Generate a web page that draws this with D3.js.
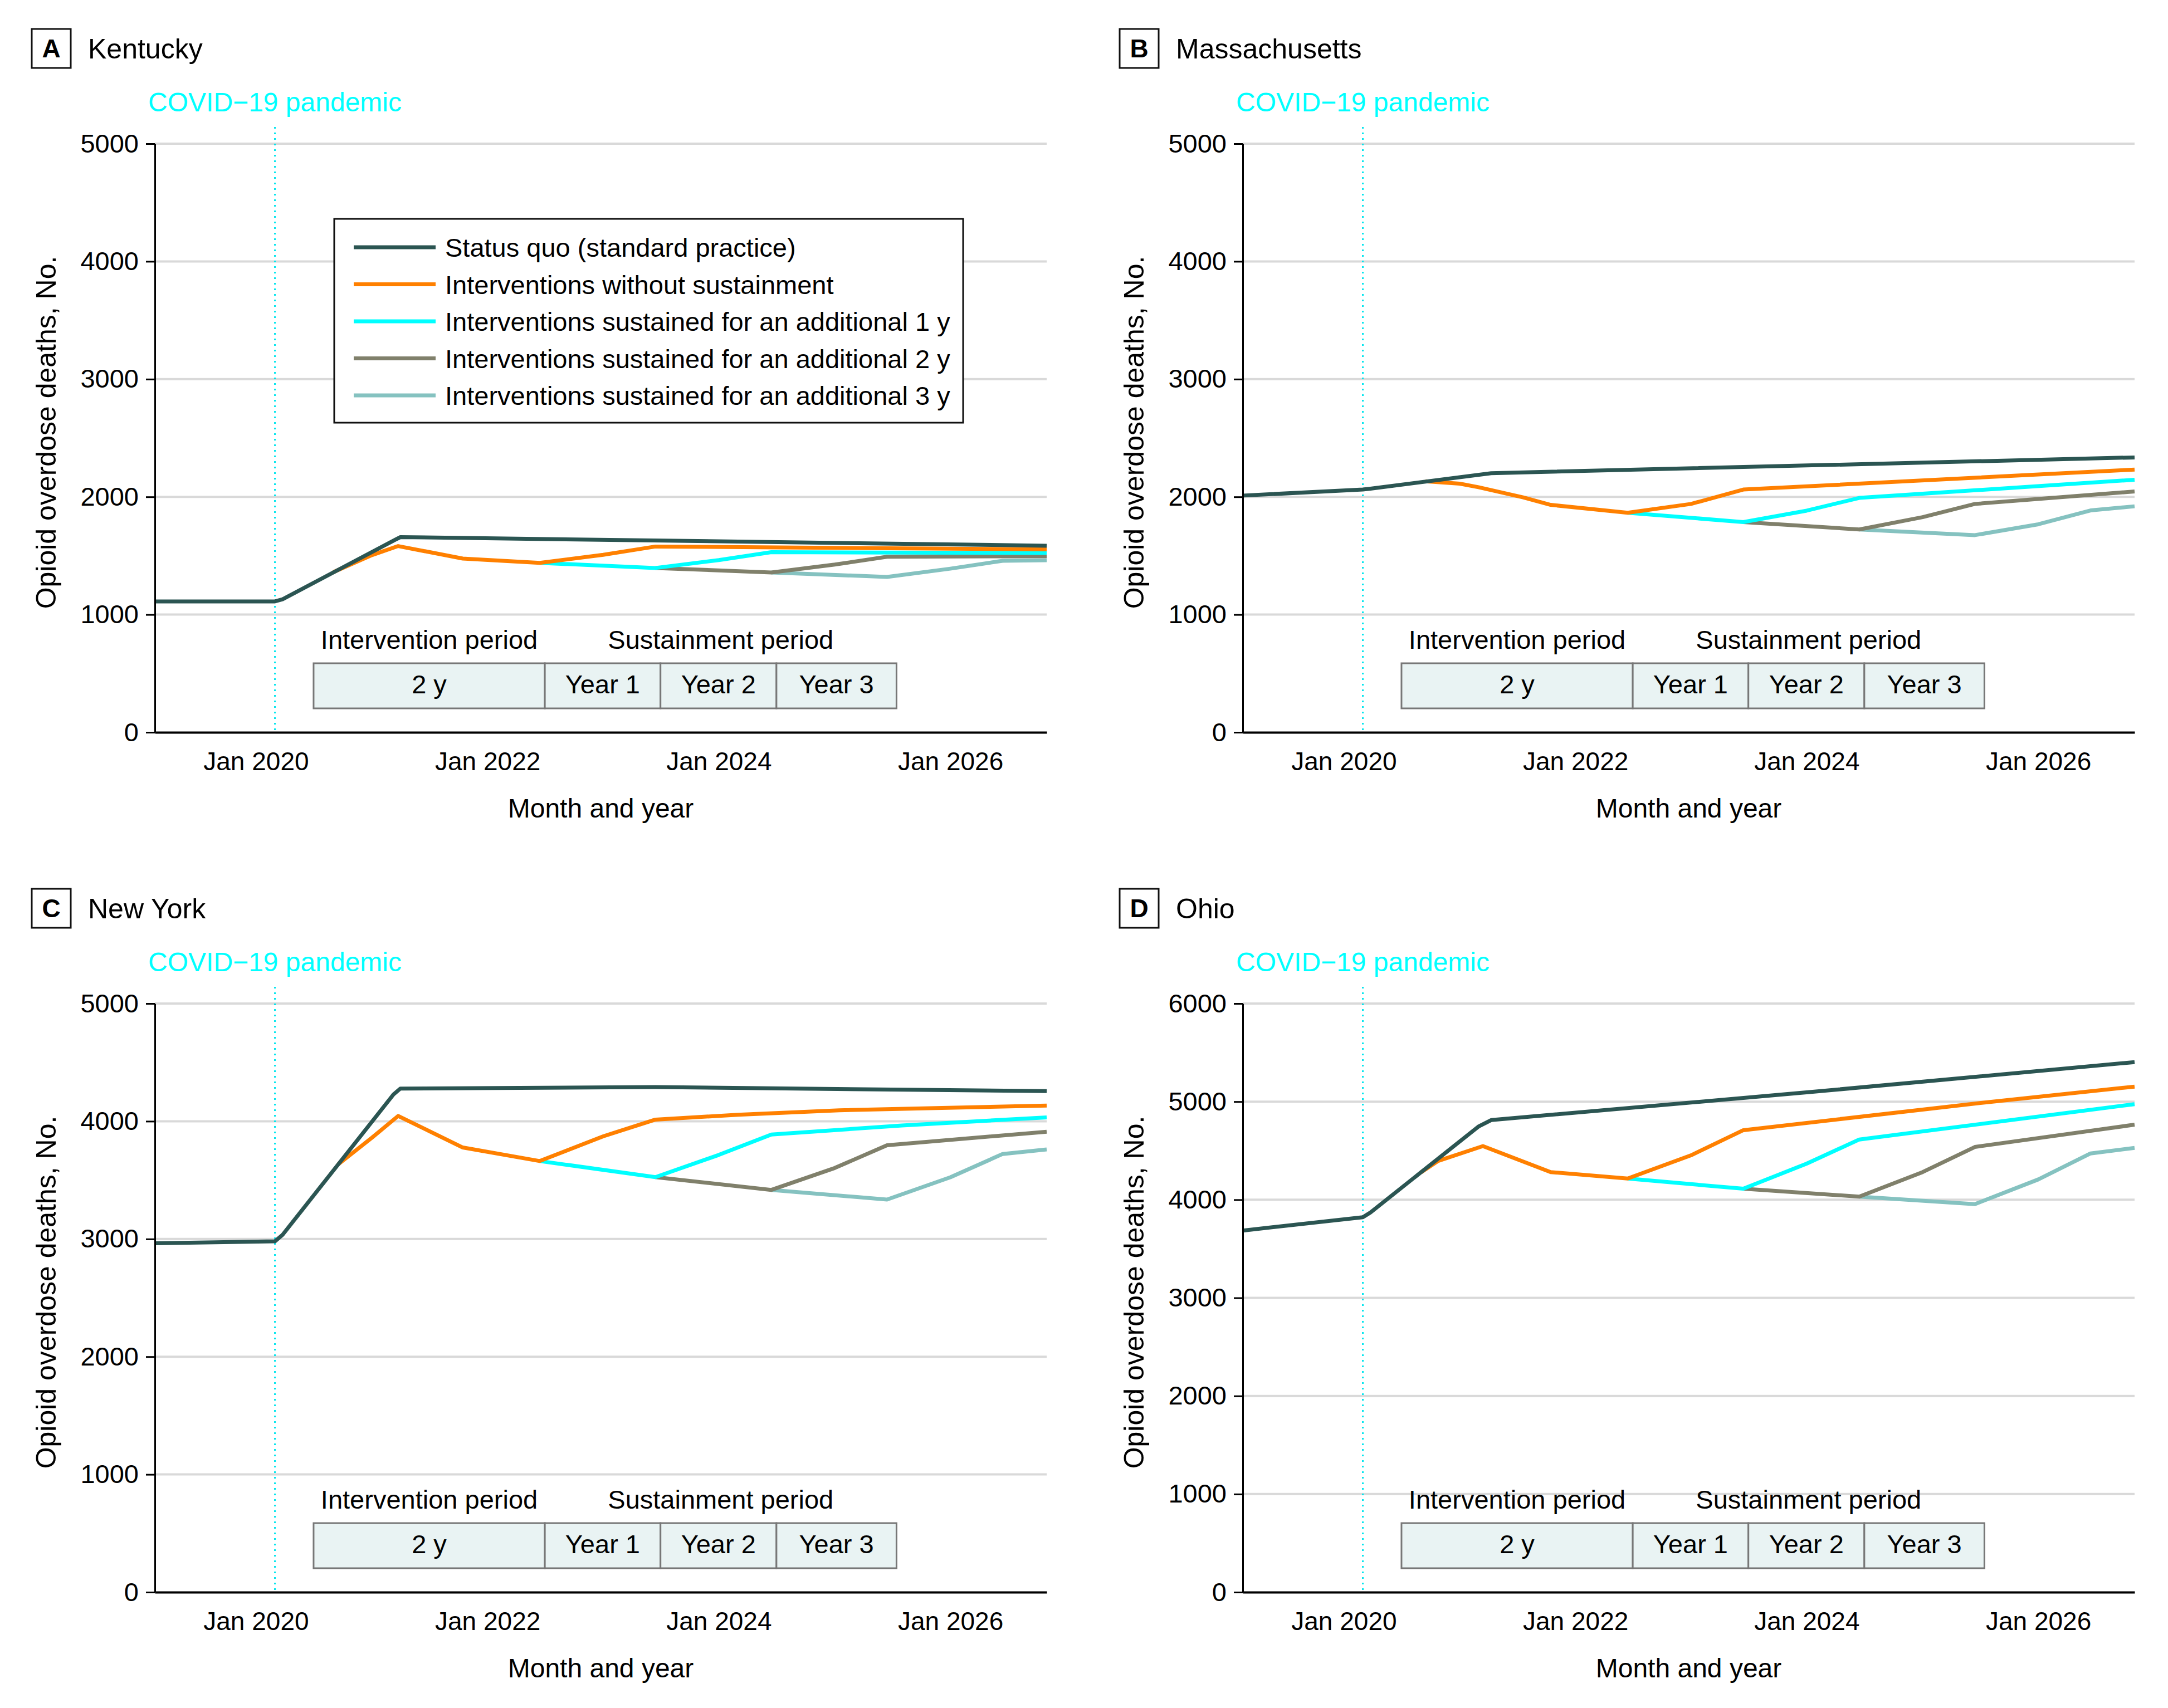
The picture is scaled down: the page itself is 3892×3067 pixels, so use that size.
<!DOCTYPE html>
<html><head><meta charset="utf-8">
<script src="https://cdn.jsdelivr.net/npm/d3@7"></script>
<style>
html,body{margin:0;padding:0;background:#fff;}
svg{display:block;font-family:"Liberation Sans",Arial,Helvetica,sans-serif;}
</style></head><body>
<svg id="chart" width="3892" height="3067"></svg>
<script>
// ---------------- DATA ----------------
const seriesNames = [
  "Status quo (standard practice)",
  "Interventions without sustainment",
  "Interventions sustained for an additional 1 y",
  "Interventions sustained for an additional 2 y",
  "Interventions sustained for an additional 3 y"
];
const panelLetters = ["A", "B", "C", "D"];
const panelStates = ["Kentucky", "Massachusetts", "New York", "Ohio"];
const xDomain = ["2019-02-16", "2026-11-01"];
const xTickDates = ["2020-01-01", "2022-01-01", "2024-01-01", "2026-01-01"];
const covidDate = "2020-03-01";
const periodBounds = ["2020-07-01", "2022-07-01", "2023-07-01", "2024-07-01", "2025-07-15"];
const periodSegments = ["2 y", "Year 1", "Year 2", "Year 3"];
const periodHeaders = ["Intervention period", "Sustainment period"];
const yTicksStd = [0, 1000, 2000, 3000, 4000, 5000];
const yTicksOhio = [0, 1000, 2000, 3000, 4000, 5000, 6000];

// Kentucky
const kySQ = [["2019-02-16",1112],["2020-03-01",1112],["2020-03-25",1130],["2021-03-15",1635],["2021-04-01",1658],["2026-11-01",1585]];
const kyNo = [["2020-09-01",1360],["2021-01-01",1505],["2021-03-25",1582],["2021-10-15",1476],["2022-06-15",1439],["2023-01-01",1508],["2023-06-15",1578],["2026-11-01",1554]];
const ky1 = [["2022-06-15",1439],["2023-06-15",1396],["2024-01-01",1463],["2024-06-15",1530],["2026-11-01",1523]];
const ky2 = [["2023-06-15",1396],["2024-06-15",1358],["2025-01-01",1425],["2025-06-15",1491],["2026-11-01",1496]];
const ky3 = [["2024-06-15",1358],["2025-06-15",1320],["2026-01-01",1390],["2026-06-15",1457],["2026-11-01",1462]];

// Massachusetts
const maSQ = [["2019-02-16",2011],["2020-03-01",2062],["2020-03-25",2070],["2021-04-10",2201],["2026-11-01",2335]];
const maNo = [["2020-09-15",2132],["2021-01-01",2112],["2021-03-01",2082],["2021-07-20",1996],["2021-10-15",1932],["2022-06-15",1865],["2023-01-01",1940],["2023-06-15",2062],["2026-11-01",2232]];
const ma1 = [["2022-06-15",1865],["2023-06-15",1786],["2024-01-01",1883],["2024-06-15",1991],["2026-11-01",2145]];
const ma2 = [["2023-06-15",1786],["2024-06-15",1723],["2025-01-01",1828],["2025-06-15",1940],["2026-11-01",2046]];
const ma3 = [["2024-06-15",1723],["2025-06-15",1675],["2026-01-01",1767],["2026-06-15",1885],["2026-11-01",1920]];

// New York
const nySQ = [["2019-02-16",2963],["2020-03-01",2980],["2020-03-25",3035],["2021-03-10",4227],["2021-04-01",4278],["2023-06-15",4290],["2026-11-01",4256]];
const nyNo = [["2020-09-15",3631],["2021-01-01",3860],["2021-03-25",4045],["2021-10-15",3777],["2022-06-15",3662],["2023-01-01",3872],["2023-06-15",4014],["2024-03-01",4055],["2025-01-15",4093],["2026-11-01",4133]];
const ny1 = [["2022-06-15",3662],["2023-06-15",3525],["2024-01-01",3714],["2024-06-15",3887],["2025-08-01",3964],["2026-11-01",4033]];
const ny2 = [["2023-06-15",3525],["2024-06-15",3417],["2025-01-01",3603],["2025-06-15",3796],["2026-11-01",3911]];
const ny3 = [["2024-06-15",3417],["2025-06-15",3335],["2026-01-01",3524],["2026-06-15",3722],["2026-11-01",3761]];

// Ohio
const ohSQ = [["2019-02-16",3686],["2020-03-01",3822],["2020-03-25",3870],["2021-03-01",4746],["2021-04-10",4812],["2024-01-20",5100],["2026-11-01",5403]];
const ohNo = [["2020-09-01",4280],["2020-10-25",4396],["2021-03-15",4547],["2021-10-15",4282],["2022-06-15",4216],["2023-01-01",4453],["2023-06-15",4709],["2025-07-20",4993],["2026-11-01",5153]];
const oh1 = [["2022-06-15",4216],["2023-06-15",4112],["2024-01-01",4368],["2024-06-15",4614],["2026-11-01",4974]];
const oh2 = [["2023-06-15",4112],["2024-06-15",4032],["2025-01-01",4282],["2025-06-15",4538],["2026-11-01",4765]];
const oh3 = [["2024-06-15",4032],["2025-06-15",3955],["2026-01-01",4207],["2026-06-15",4472],["2026-11-01",4528]];

// ---------------- STYLE / LAYOUT ----------------
const seriesColors = ["#2b5552", "#ff8000", "#00ffff", "#80806b", "#85c2c0"];
const parse = d3.timeParse("%Y-%m-%d");

const panels = [
  {series: [kySQ, kyNo, ky1, ky2, ky3], ticks: yTicksStd, col: 0, row: 0, legend: true},
  {series: [maSQ, maNo, ma1, ma2, ma3], ticks: yTicksStd, col: 1, row: 0, legend: false},
  {series: [nySQ, nyNo, ny1, ny2, ny3], ticks: yTicksStd, col: 0, row: 1, legend: false},
  {series: [ohSQ, ohNo, oh1, oh2, oh3], ticks: yTicksOhio, col: 1, row: 1, legend: false}
];

const colX = [0, 1953];
const rowY = [0, 1544];
const plotX0 = 278, plotX1 = 1879, plotY0 = 258, plotY1 = 1315;

const svg = d3.select("#chart");
svg.append("rect").attr("width", 3892).attr("height", 3067).attr("fill", "#fff");

panels.forEach((p, i) => {
  const g = svg.append("g").attr("transform", `translate(${colX[p.col]},${rowY[p.row]})`);
  const x = d3.scaleTime().domain(xDomain.map(parse)).range([plotX0, plotX1]);
  const y = d3.scaleLinear().domain([0, d3.max(p.ticks)]).range([plotY1, plotY0]);

  // panel label box + title
  g.append("rect").attr("x", 57).attr("y", 52).attr("width", 70).attr("height", 70)
    .attr("fill", "none").attr("stroke", "#111").attr("stroke-width", 3);
  g.append("text").attr("x", 92).attr("y", 103).attr("text-anchor", "middle")
    .attr("font-size", 46).attr("font-weight", "bold").attr("fill", "#000").text(panelLetters[i]);
  g.append("text").attr("x", 158).attr("y", 105).attr("font-size", 50).attr("fill", "#000").text(panelStates[i]);

  // gridlines
  g.append("g").selectAll("line").data(p.ticks.filter(t => t > 0)).join("line")
    .attr("x1", plotX0).attr("x2", plotX1)
    .attr("y1", d => y(d)).attr("y2", d => y(d))
    .attr("stroke", "#d9d9d9").attr("stroke-width", 4);

  // covid line + label
  const cx = x(parse(covidDate));
  g.append("line").attr("x1", cx).attr("x2", cx).attr("y1", plotY0 - 30).attr("y2", plotY1)
    .attr("stroke", "#00e5ee").attr("stroke-width", 3).attr("stroke-dasharray", "3,7");
  g.append("text").attr("x", cx).attr("y", 200).attr("text-anchor", "middle")
    .attr("font-size", 48).attr("fill", "#00ffff").text("COVID\u221219 pandemic");

  // period schematic
  const pb = periodBounds.map(parse);
  const boxTop = plotY1 - 124, boxH = 81;
  const seg = g.append("g");
  seg.selectAll("rect").data(periodSegments).join("rect")
    .attr("x", (d, k) => x(pb[k])).attr("width", (d, k) => x(pb[k + 1]) - x(pb[k]))
    .attr("y", boxTop).attr("height", boxH)
    .attr("fill", "#e9f3f3").attr("stroke", "#777").attr("stroke-width", 3);
  seg.selectAll("text").data(periodSegments).join("text")
    .attr("x", (d, k) => (x(pb[k]) + x(pb[k + 1])) / 2).attr("y", plotY1 - 70)
    .attr("text-anchor", "middle").attr("font-size", 47).attr("fill", "#000").text(d => d);
  g.append("text").attr("x", (x(pb[0]) + x(pb[1])) / 2).attr("y", plotY1 - 150)
    .attr("text-anchor", "middle").attr("font-size", 47).attr("fill", "#000").text(periodHeaders[0]);
  g.append("text").attr("x", (x(pb[1]) + x(pb[4])) / 2).attr("y", plotY1 - 150)
    .attr("text-anchor", "middle").attr("font-size", 47).attr("fill", "#000").text(periodHeaders[1]);

  // series lines (drawn back to front)
  const line = d3.line().x(d => x(parse(d[0]))).y(d => y(d[1])).curve(d3.curveLinear);
  const order = [4, 3, 2, 1, 0];
  order.forEach(k => {
    g.append("path").datum(p.series[k]).attr("d", line)
      .attr("fill", "none").attr("stroke", seriesColors[k]).attr("stroke-width", 7)
      .attr("stroke-linejoin", "round").attr("stroke-linecap", "butt");
  });

  // axes
  const ya = g.append("g").attr("transform", `translate(${plotX0},0)`)
    .call(d3.axisLeft(y).tickValues(p.ticks).tickSize(16).tickPadding(13).tickSizeOuter(0).tickFormat(d3.format("d")));
  ya.attr("font-family", null);
  ya.select(".domain").attr("stroke", "#000").attr("stroke-width", 3);
  ya.selectAll(".tick line").attr("stroke", "#000").attr("stroke-width", 3);
  ya.selectAll(".tick text").attr("font-size", 47).attr("fill", "#000");

  const xa = g.append("g").attr("transform", `translate(0,${plotY1})`)
    .call(d3.axisBottom(x).tickValues(xTickDates.map(parse)).tickSize(0).tickPadding(35)
      .tickFormat(d3.timeFormat("Jan %Y")));
  xa.attr("font-family", null);
  xa.select(".domain").attr("stroke", "#000").attr("stroke-width", 4);
  xa.selectAll(".tick text").attr("font-size", 46).attr("fill", "#000");

  // axis titles
  g.append("text").attr("transform", `translate(${plotX0 - 178},${(plotY0 + plotY1) / 2 - 10}) rotate(-90)`)
    .attr("text-anchor", "middle").attr("font-size", 50).attr("fill", "#000").text("Opioid overdose deaths, No.");
  g.append("text").attr("x", (plotX0 + plotX1) / 2).attr("y", 1468).attr("text-anchor", "middle")
    .attr("font-size", 48).attr("fill", "#000").text("Month and year");

  // legend
  if (p.legend) {
    const lx = plotX0 + 322, ly = plotY0 + 135;
    const lg = g.append("g");
    lg.append("rect").attr("x", lx).attr("y", ly).attr("width", 1129).attr("height", 366)
      .attr("fill", "#fff").attr("stroke", "#111").attr("stroke-width", 3);
    const items = lg.selectAll("g").data(seriesNames).join("g")
      .attr("transform", (d, k) => `translate(${lx},${ly + 51 + k * 66.5})`);
    items.append("line").attr("x1", 35).attr("x2", 182).attr("y1", 0).attr("y2", 0)
      .attr("stroke", (d, k) => seriesColors[k]).attr("stroke-width", 7);
    items.append("text").attr("x", 199).attr("y", 17).attr("font-size", 47).attr("fill", "#000").text(d => d);
  }
});
</script>
</body></html>
